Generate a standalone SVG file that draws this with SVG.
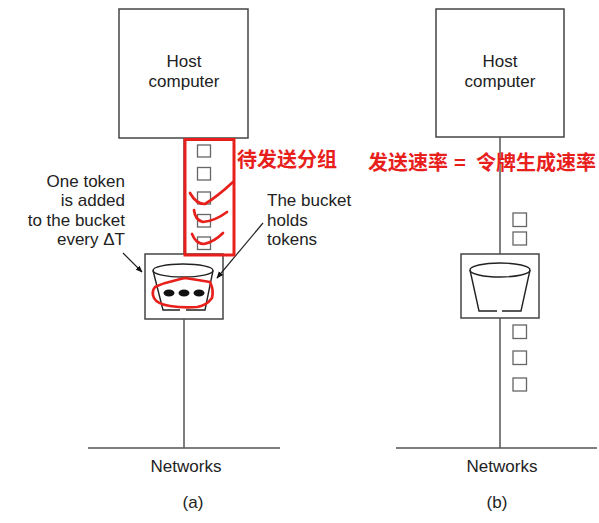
<svg xmlns="http://www.w3.org/2000/svg" width="599" height="523" viewBox="0 0 599 523">
<defs>
<marker id="ah" viewBox="0 0 10 10" refX="9" refY="5" markerWidth="7" markerHeight="7" orient="auto" markerUnits="userSpaceOnUse">
<path d="M0,1 L10,5 L0,9 Z" fill="#111"/>
</marker>
<style>
.box{fill:#fff;stroke:#444;stroke-width:1.5}
.ln{fill:none;stroke:#555;stroke-width:1.5}
.pk{fill:#fff;stroke:#666;stroke-width:1.3}
.bk{fill:none;stroke:#222;stroke-width:1.4}
.t{font-family:"Liberation Sans",Arial,sans-serif;font-size:17px;fill:#222}
.r{font-family:"Noto Sans CJK SC","Noto Sans",sans-serif;font-size:20px;font-weight:bold;fill:#e8201c}
.red{fill:none;stroke:#e8201c;stroke-width:2.7;stroke-linecap:round;stroke-linejoin:round}
.arr{fill:none;stroke:#222;stroke-width:1.2}
</style>
</defs>
<rect width="599" height="523" fill="#fff"/>

<g id="host-a">
<rect class="box" x="119" y="9" width="129" height="129"/>
<text class="t" x="184" y="67" text-anchor="middle">Host</text>
<text class="t" x="184" y="86.5" text-anchor="middle">computer</text>
</g>

<g id="packets-a">
<rect class="pk" x="197.5" y="145" width="13" height="12"/>
<rect class="pk" x="197.5" y="167.5" width="13" height="12.5"/>
<rect class="pk" x="197.5" y="192" width="13" height="12"/>
<rect class="pk" x="197.5" y="214.5" width="13" height="12.5"/>
<rect class="pk" x="197.5" y="237" width="13" height="12.5"/>
</g>

<g id="bucket-a">
<rect class="box" x="145" y="254" width="78" height="65"/>
<ellipse class="bk" cx="183" cy="270.5" rx="30" ry="6.5"/>
<path class="bk" d="M153,270.5 L163,310 L180,310 M186,310 L205,310 L213,270.5"/>
<ellipse cx="169" cy="293" rx="5.5" ry="3.5" fill="#111"/>
<ellipse cx="184" cy="293" rx="5.5" ry="3.5" fill="#111"/>
<ellipse cx="199" cy="293" rx="5.5" ry="3.5" fill="#111"/>
</g>

<g id="label-token-added">
<text class="t" x="125" y="186.5" text-anchor="end">One token</text>
<text class="t" x="125" y="206" text-anchor="end">is added</text>
<text class="t" x="125" y="225.5" text-anchor="end">to the bucket</text>
<text class="t" x="125" y="245" text-anchor="end">every ΔT</text>
</g>

<g id="label-bucket-holds">
<text class="t" x="267" y="206" text-anchor="start">The bucket</text>
<text class="t" x="267" y="225.5" text-anchor="start">holds</text>
<text class="t" x="267" y="245" text-anchor="start">tokens</text>
</g>

<g id="host-b">
<rect class="box" x="436" y="9" width="128" height="128"/>
<text class="t" x="500" y="67" text-anchor="middle">Host</text>
<text class="t" x="500" y="86.5" text-anchor="middle">computer</text>
</g>

<g id="packets-b-above">
<rect class="pk" x="513" y="213" width="13.5" height="13.5"/>
<rect class="pk" x="513" y="232" width="13.5" height="13"/>
</g>

<g id="bucket-b">
<rect class="box" x="461" y="254" width="78" height="64"/>
<ellipse class="bk" cx="500" cy="270" rx="30" ry="7"/>
<path class="bk" d="M470,270 L479,311 L497,311 M502,311 L521,311 L530,270"/>
</g>

<g id="packets-b-below">
<rect class="pk" x="513" y="325" width="13.5" height="13.5"/>
<rect class="pk" x="513" y="351" width="13.5" height="13.5"/>
<rect class="pk" x="513" y="378" width="13.5" height="13"/>
</g>

<g id="networks-a">
<text class="t" x="186" y="472" text-anchor="middle">Networks</text>
<text class="t" x="193" y="508" text-anchor="middle">(a)</text>
</g>
<g id="networks-b">
<text class="t" x="502" y="472" text-anchor="middle">Networks</text>
<text class="t" x="497" y="508" text-anchor="middle">(b)</text>
</g>

<g id="connectors">
<line class="ln" x1="184" y1="138" x2="184" y2="254"/>
<line class="ln" x1="184" y1="319" x2="184" y2="448"/>
<line class="ln" x1="88" y1="448" x2="280" y2="448"/>
<line class="ln" x1="500" y1="137" x2="500" y2="254"/>
<line class="ln" x1="500" y1="318" x2="500" y2="448"/>
<line class="ln" x1="396" y1="448" x2="597" y2="448"/>
<line class="arr" x1="123" y1="253" x2="142" y2="272" marker-end="url(#ah)"/>
<line class="arr" x1="263" y1="223" x2="217" y2="278" marker-end="url(#ah)"/>
</g>

<g id="annotations-a">
<rect x="185" y="139.5" width="49" height="115.5" fill="none" stroke="#e8201c" stroke-width="3"/>
<text class="r" x="237" y="167">待发送分组</text>
<path class="red" d="M190,193 Q196,204 205,204 Q218,196 233,182"/>
<path class="red" d="M194,210 Q195,220 203,222 Q215,221 227,212"/>
<path class="red" d="M192,234 Q196,244 204,244 Q214,242 223,233"/>
<path class="red" d="M173,281 Q180,279 185,278 Q198,280 210,282 Q214,290 212,298 Q206,306 197,307 Q183,308 170,306 Q157,304 154,298 Q151,292 155,287 Q163,283 173,281"/>
</g>

<g id="annotation-b">
<text class="r" x="368" y="170">发送速率</text>
<text class="r" x="460" y="170" text-anchor="middle">=</text>
<text class="r" x="476" y="170">令牌生成速率</text>
</g>
</svg>
